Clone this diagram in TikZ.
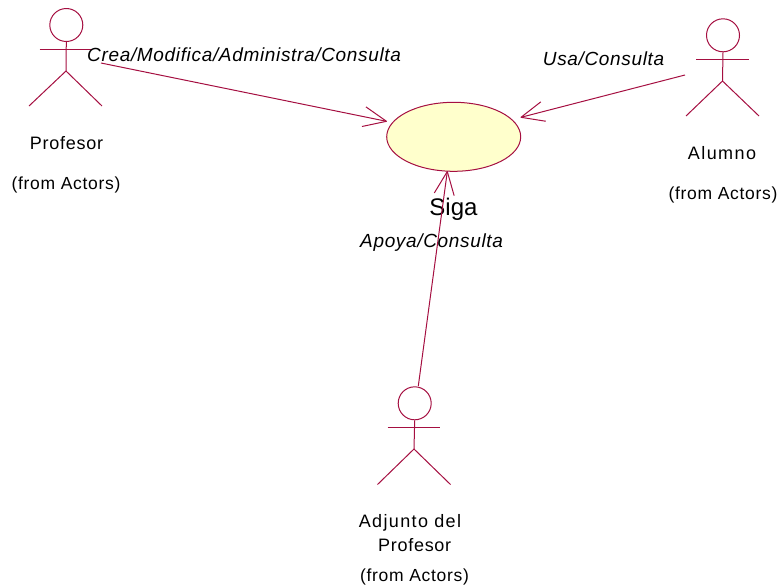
\documentclass[tikz,border=0pt]{standalone}
\usepackage{fontspec}
\setmainfont{Liberation Sans}
\usetikzlibrary{arrows.meta,shapes.geometric}
\definecolor{umlline}{RGB}{165,15,65}
\definecolor{umlfill}{RGB}{255,255,204}
\pgfdeclarearrow{
  name=OpenV,
  setup code={\pgfarrowssettipend{0pt}\pgfarrowssetlineend{-1pt}},
  drawing code={
    \pgfsetroundjoin
    \pgfpathmoveto{\pgfpoint{-23pt}{10pt}}
    \pgfpathlineto{\pgfpointorigin}
    \pgfpathlineto{\pgfpoint{-23pt}{-10pt}}
    \pgfusepathqstroke
  },
  defaults={}
}
\tikzset{
  umlstroke/.style={draw=umlline,line width=1pt},
  head/.style={umlstroke,circle,inner sep=0pt,minimum size=33pt},
  usecase/.style={umlstroke,ellipse,fill=umlfill,inner sep=0pt,minimum width=134pt,minimum height=69pt},
  assoc/.style={umlstroke,-{OpenV}},
  lbl/.style={inner sep=0pt,anchor=base,text=black,font=\fontsize{18}{18}\selectfont\addfontfeature{LetterSpace=#1}},
  lbl/.default=4,
  frm/.style={inner sep=0pt,anchor=base,text=black,font=\fontsize{17.5}{18}\selectfont\addfontfeature{LetterSpace=4}},
  rol/.style={inner sep=0pt,anchor=base west,text=black,font=\fontsize{19}{19}\selectfont\itshape\addfontfeature{LetterSpace=3.5}},
  ucname/.style={inner sep=0pt,anchor=base,text=black,font=\fontsize{24}{24}\selectfont}
}
\begin{document}
\begin{tikzpicture}[x=1pt,y=-1pt]
\useasboundingbox (0,0) rectangle (779,587);
% use case
\node[usecase] (siga) at (453.7,136.8) {};
\node[ucname] (siganame) at (453.5,215) {Siga};
% Profesor
\node[head] (h1) at (66.3,25) {};
\draw[umlstroke] (39.5,49) -- (92,49);
\draw[umlstroke] (h1.south) -- (66,71);
\draw[umlstroke] (29,106) -- (66,71) -- (102,106);
\node[lbl] (t1) at (66.5,149) {Profesor};
\node[frm] (f1) at (66,189) {(from Actors)};
% Alumno
\node[head] (h2) at (723,35.3) {};
\draw[umlstroke] (696,59) -- (749,59);
\draw[umlstroke] (h2.south) -- (722.5,81);
\draw[umlstroke] (686,116) -- (722.5,81) -- (759,116);
\node[lbl=8] (t2) at (722,159) {Alumno};
\node[frm] (f2) at (723,199) {(from Actors)};
% Adjunto
\node[head] (h3) at (414.7,403.3) {};
\draw[umlstroke] (387.6,427.3) -- (440.3,427.3);
\draw[umlstroke] (h3.south) -- (414,449);
\draw[umlstroke] (377.5,484.5) -- (414,449) -- (450.5,484.5);
\node[lbl=7.5] (t3) at (410,527) {Adjunto del};
\node[lbl] (t3b) at (414.7,551.7) {Profesor};
\node[frm] (f3) at (414.5,581.7) {(from Actors)};
% connectors
\coordinate (c1) at (101,63);
\coordinate (e1) at (386.5,121.3);
\coordinate (c2) at (685,75);
\coordinate (e2) at (521,117.3);
\coordinate (c3) at (418.3,386);
\coordinate (e3) at (447.3,171.5);
\draw[assoc] (c1) -- (e1);
\draw[assoc] (c2) -- (e2);
\draw[assoc] (c3) -- (e3);
% role labels
\node[rol] (r1) at (87,61) {Crea/Modifica/Administra/Consulta};
\node[rol] (r2) at (542.7,65) {Usa/Consulta};
\node[rol] (r3) at (360,247) {Apoya/Consulta};
\end{tikzpicture}
\end{document}
